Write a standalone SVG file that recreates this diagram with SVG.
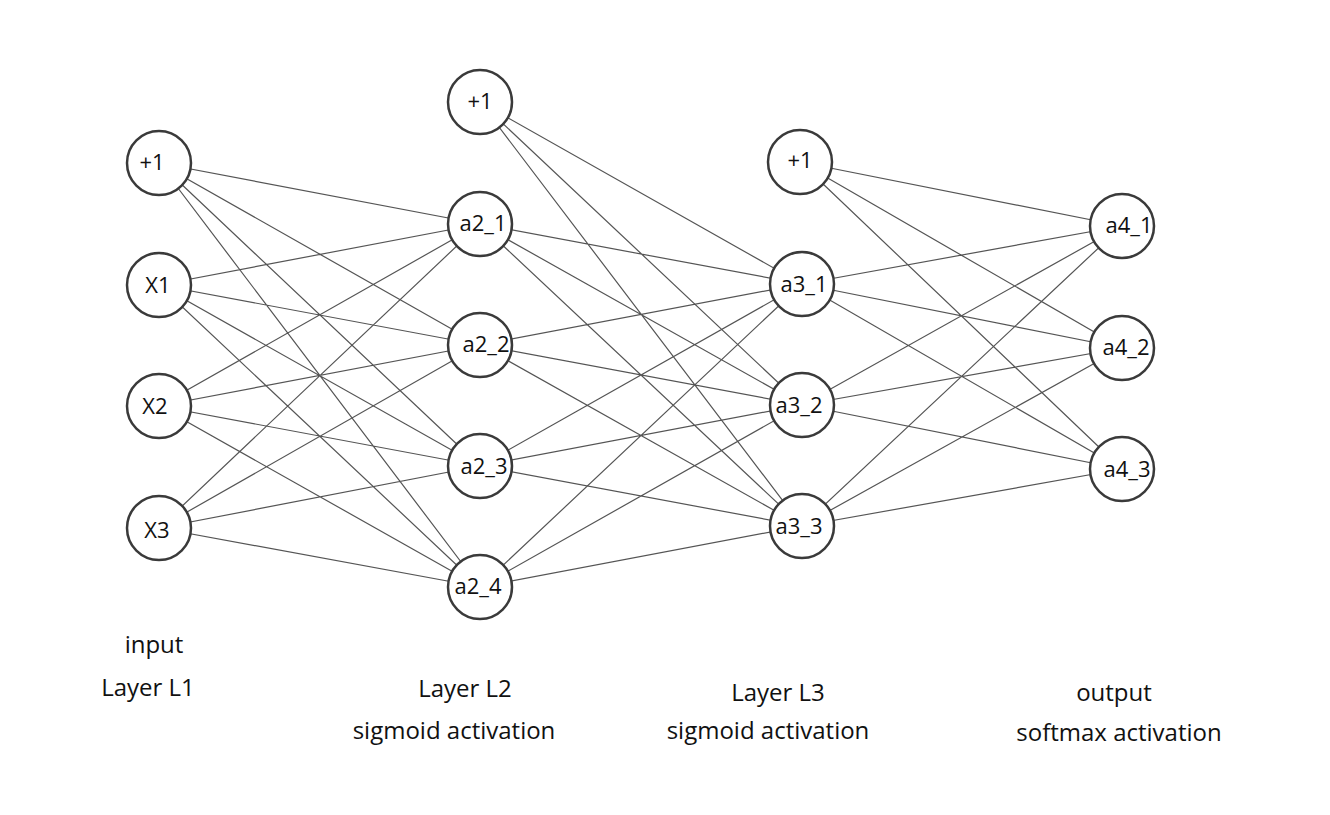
<svg xmlns="http://www.w3.org/2000/svg" width="1330" height="815" viewBox="0 0 1330 815">
<style>
.e{stroke:#555;stroke-width:1.2;fill:none}
.n{fill:#fff;stroke:#3a3a3a;stroke-width:2.5}
.t{font-family:"Open Sans","Liberation Sans",sans-serif;font-size:22px;fill:#111;text-anchor:middle}
.l{font-family:"Open Sans","Liberation Sans",sans-serif;font-size:24px;fill:#111;text-anchor:middle}
</style>
<rect width="1330" height="815" fill="#fff"/>
<g id="connectors">
<path class="e" d="M159 163L480 224M159 163L480 345M159 163L480 466M159 163L480 587
M159 285L480 224M159 285L480 345M159 285L480 466M159 285L480 587
M159 406L480 224M159 406L480 345M159 406L480 466M159 406L480 587
M159 528L480 224M159 528L480 345M159 528L480 466M159 528L480 587"/>
<path class="e" d="M480 102L802 284M480 102L802 405M480 102L802 526
M480 224L802 284M480 224L802 405M480 224L802 526
M480 345L802 284M480 345L802 405M480 345L802 526
M480 466L802 284M480 466L802 405M480 466L802 526
M480 587L802 284M480 587L802 405M480 587L802 526"/>
<path class="e" d="M800 162L1122 226M800 162L1122 348M800 162L1122 469
M802 284L1122 226M802 284L1122 348M802 284L1122 469
M802 405L1122 226M802 405L1122 348M802 405L1122 469
M802 526L1122 226M802 526L1122 348M802 526L1122 469"/>
</g>
<g id="n1_b"><circle class="n" cx="159" cy="163" r="32"/><text class="t" x="152" y="170">+1</text></g>
<g id="n1_x1"><circle class="n" cx="159" cy="285" r="32"/><text class="t" x="158" y="293">X1</text></g>
<g id="n1_x2"><circle class="n" cx="159" cy="406" r="32"/><text class="t" x="155" y="414">X2</text></g>
<g id="n1_x3"><circle class="n" cx="159" cy="528" r="32"/><text class="t" x="157" y="538">X3</text></g>
<g id="n2_b"><circle class="n" cx="480" cy="102" r="32"/><text class="t" x="480" y="109">+1</text></g>
<g id="n2_1"><circle class="n" cx="480" cy="224" r="32"/><text class="t" x="483" y="231">a2_1</text></g>
<g id="n2_2"><circle class="n" cx="480" cy="345" r="32"/><text class="t" x="486" y="352">a2_2</text></g>
<g id="n2_3"><circle class="n" cx="480" cy="466" r="32"/><text class="t" x="484" y="474">a2_3</text></g>
<g id="n2_4"><circle class="n" cx="480" cy="587" r="32"/><text class="t" x="478" y="594">a2_4</text></g>
<g id="n3_b"><circle class="n" cx="800" cy="162" r="32"/><text class="t" x="800" y="168">+1</text></g>
<g id="n3_1"><circle class="n" cx="802" cy="284" r="32"/><text class="t" x="804" y="292">a3_1</text></g>
<g id="n3_2"><circle class="n" cx="802" cy="405" r="32"/><text class="t" x="799" y="413">a3_2</text></g>
<g id="n3_3"><circle class="n" cx="802" cy="526" r="32"/><text class="t" x="799" y="534">a3_3</text></g>
<g id="n4_1"><circle class="n" cx="1122" cy="226" r="32"/><text class="t" x="1129" y="233">a4_1</text></g>
<g id="n4_2"><circle class="n" cx="1122" cy="348" r="32"/><text class="t" x="1126" y="355">a4_2</text></g>
<g id="n4_3"><circle class="n" cx="1122" cy="469" r="32"/><text class="t" x="1127" y="477">a4_3</text></g>
<g id="labels">
<text class="l" x="154" y="653">input</text>
<text class="l" x="148" y="696">Layer L1</text>
<text class="l" x="465" y="697">Layer L2</text>
<text class="l" x="454" y="739">sigmoid activation</text>
<text class="l" x="778" y="701">Layer L3</text>
<text class="l" x="768" y="739">sigmoid activation</text>
<text class="l" x="1114" y="701">output</text>
<text class="l" x="1119" y="741">softmax activation</text>
</g>
</svg>
